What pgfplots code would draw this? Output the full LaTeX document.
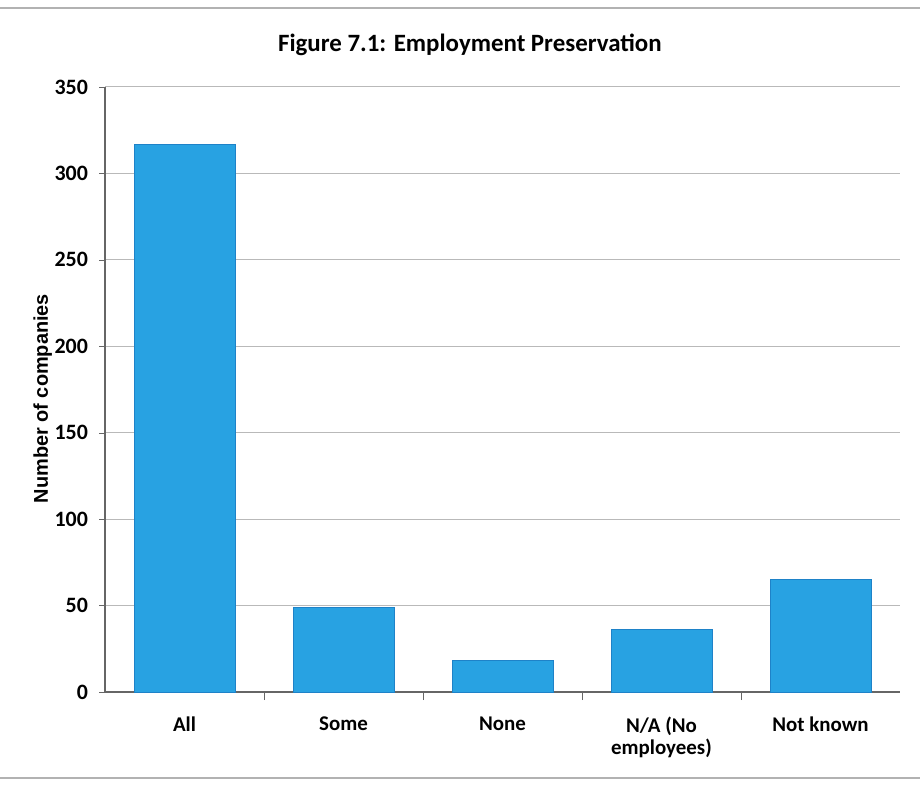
\documentclass[border=0pt]{standalone}
\usepackage{pgfplots}
\pgfplotsset{compat=1.18}
\usepackage{fontspec}
\setmainfont{Carlito}
\newfontfamily\arialfont{Liberation Sans}
\definecolor{barblue}{RGB}{40,162,226}
\definecolor{baredge}{RGB}{30,130,200}
\begin{document}
\begin{tikzpicture}
\useasboundingbox (-52.5bp,-47bp) rectangle (407.5bp,346bp);
\draw[gray!60, line width=0.6pt] (-52.5bp,342bp) -- (407.5bp,342bp);
\draw[gray!60, line width=0.6pt] (-52.5bp,-43bp) -- (407.5bp,-43bp);
\begin{axis}[
  scale only axis,
  width=397.5bp, height=302.5bp,
  ymin=0, ymax=350,
  xmin=-0.5, xmax=4.5,
  ytick={0,50,...,350},
  xtick={0,1,2,3,4},
  xticklabels={All,Some,None,{N/A (No\\employees)},Not known},
  xticklabel style={align=center, font=\bfseries\fontsize{10.5}{11}\selectfont, yshift=-6bp},
  yticklabel style={font=\bfseries\fontsize{11}{12}\selectfont, xshift=-2bp},
  /pgf/number format/assume math mode=true,
  minor xtick={0.5,1.5,2.5,3.5},
  major x tick style={draw=none},
  minor tick length=4bp,
  tick align=outside,
  major tick length=3bp,
  axis x line*=bottom,
  axis y line*=left,
  axis line style={gray!80!black, line width=0.6pt},
  tick style={gray!80!black},
  ymajorgrids,
  grid style={gray!55, line width=0.5pt},
  ylabel={\arialfont\bfseries Number of companies},
  ylabel style={font=\fontsize{10}{12}\selectfont, at={(-23bp,0.485)}, anchor=south, rotate=0},
  title={\bfseries Figure 7.1: Employment Preservation},
  title style={font=\fontsize{12.5}{14}\selectfont, at={(0.459,1)}, anchor=south, yshift=6bp},
  ybar, bar width=0.635,
  axis on top=false,
  clip=false,
]
\addplot[fill=barblue, draw=baredge, line width=0.4pt] coordinates {(0,317) (1,49) (2,18) (3,36) (4,65)};
\end{axis}
\end{tikzpicture}
\end{document}
